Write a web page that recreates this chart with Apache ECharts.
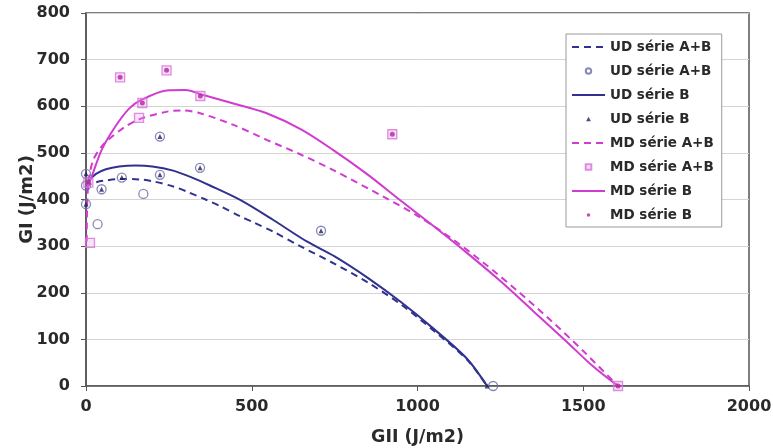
<!DOCTYPE html>
<html>
<head>
<meta charset="utf-8">
<script src="https://cdn.jsdelivr.net/npm/echarts@6/dist/echarts.min.js"></script>
<style>html,body{margin:0;padding:0;background:#fff}#c{width:773px;height:448px}</style>
</head>
<body>
<div id="c"></div>
<script>
// Tick values
const xTicks = [0, 500, 1000, 1500, 2000];
const yTicks = [0, 100, 200, 300, 400, 500, 600, 700, 800];

// Fitted curves (GII, GI)
const udABCurveX = [0, 10, 30, 52, 103, 163, 202, 263, 304, 364, 404, 465, 505, 565, 646, 750, 850, 950, 1050, 1150, 1210];
const udABCurveY = [425, 432, 437, 440, 444, 443, 439, 428, 417, 399, 386, 364, 351, 331, 300, 262, 222, 175, 118, 56, 0];
const udBCurveX = [0, 10, 30, 60, 100, 150, 200, 263, 320, 374, 465, 565, 666, 750, 850, 950, 1050, 1150, 1210];
const udBCurveY = [420, 440, 455, 465, 471, 473, 471, 462, 447, 430, 399, 356, 310, 278, 232, 180, 122, 58, 0];
const mdABCurveX = [2, 4, 10, 22, 45, 67, 118, 168, 248, 290, 344, 445, 545, 646, 746, 897, 1000, 1100, 1200, 1300, 1400, 1500, 1605];
const mdABCurveY = [310, 400, 450, 485, 512, 528, 556, 574, 589, 591, 585, 560, 528, 497, 463, 406, 365, 318, 264, 205, 142, 75, 0];
const mdBCurveX = [0, 17, 47, 88, 130, 168, 243, 300, 354, 445, 545, 650, 746, 847, 947, 1050, 1150, 1250, 1350, 1450, 1525, 1605];
const mdBCurveY = [420, 449, 506, 556, 595, 614, 634, 635, 624, 606, 585, 550, 506, 455, 399, 342, 285, 225, 160, 95, 45, 0];

// Measured points
const udABPtsX = [0, 0, 0, 35, 47, 108, 173, 223, 223, 344, 709, 1228];
const udABPtsY = [455, 430, 390, 347, 422, 447, 412, 453, 535, 468, 333, 0];
const udBPtsX = [0, 0, 47, 108, 223, 223, 344, 709, 1210];
const udBPtsY = [455, 390, 422, 447, 453, 535, 468, 333, 0];
const mdABPtsX = [12, 7, 103, 160, 170, 243, 345, 924, 1605];
const mdABPtsY = [307, 436, 662, 575, 607, 677, 622, 540, 0];
const mdBPtsX = [7, 103, 170, 243, 345, 924, 1605];
const mdBPtsY = [438, 662, 607, 677, 622, 540, 0];

const names = ['UD série A+B', 'UD série A+B\u200b', 'UD série B', 'UD série B\u200b',
               'MD série A+B', 'MD série A+B\u200b', 'MD série B', 'MD série B\u200b'];

const NAVY = '#31318f';
const MAG = '#d03ccf';
const zip = (xs, ys) => xs.map((x, i) => [x, ys[i]]);
const font = 'DejaVu Sans';
const noSym = {color: 'rgba(0,0,0,0)', borderWidth: 0, borderColor: 'rgba(0,0,0,0)'};
const smallTri = 'path://M0,0M10,10M5,2.2L8,7.8L2,7.8Z';
const smallDot = 'path://M0,0M10,10M5,2.8A2.2,2.2 0 1 1 5,7.2A2.2,2.2 0 1 1 5,2.8Z';
const smallCircle = 'path://M0,0M10,10M5,1.6A3.4,3.4 0 1 1 5,8.4A3.4,3.4 0 1 1 5,1.6Z';
const smallSquare = 'path://M0,0M10,10M1.5,1.5L8.5,1.5L8.5,8.5L1.5,8.5Z';

const chart = echarts.init(document.getElementById('c'), null, {renderer: 'canvas'});
chart.setOption({
  animation: false,
  backgroundColor: '#fff',
  grid: {left: 86, right: 24, top: 13, bottom: 62, show: true, borderColor: '#555', borderWidth: 1.5,
         outerBoundsMode: 'none', containLabel: false},
  xAxis: {
    type: 'value', min: xTicks[0], max: xTicks[xTicks.length - 1], interval: 500,
    name: 'GII (J/m2)', nameLocation: 'middle', nameGap: 42, nameMoveOverlap: false,
    nameTextStyle: {fontFamily: font, fontWeight: 'bold', fontSize: 17.5, color: '#2a2a2a'},
    axisLine: {show: true, lineStyle: {color: '#555', width: 1.5}},
    axisTick: {show: true, inside: false, length: 5, lineStyle: {color: '#555'}},
    axisLabel: {fontFamily: font, fontWeight: 'bold', fontSize: 16, color: '#2a2a2a', margin: 13,
                formatter: v => String(v)},
    splitLine: {show: false}
  },
  yAxis: {
    type: 'value', min: yTicks[0], max: yTicks[yTicks.length - 1], interval: 100,
    name: 'GI (J/m2)', nameLocation: 'middle', nameGap: 50, nameRotate: 90, nameMoveOverlap: false,
    nameTextStyle: {fontFamily: font, fontWeight: 'bold', fontSize: 18, color: '#2a2a2a'},
    axisLine: {show: true, lineStyle: {color: '#555', width: 1.5}},
    axisTick: {show: true, inside: false, length: 5, lineStyle: {color: '#555'}},
    axisLabel: {fontFamily: font, fontWeight: 'bold', fontSize: 16, color: '#2a2a2a', margin: 16,
                formatter: v => String(v)},
    splitLine: {show: true, lineStyle: {color: '#d4d4d4', width: 1}}
  },
  legend: {
    orient: 'vertical', left: 566, top: 34,
    data: [
      {name: names[0], itemStyle: noSym},
      {name: names[1], icon: smallCircle},
      {name: names[2], itemStyle: noSym},
      {name: names[3], icon: smallTri},
      {name: names[4], itemStyle: noSym},
      {name: names[5], icon: smallSquare},
      {name: names[6], itemStyle: noSym},
      {name: names[7], icon: smallDot}
    ],
    itemWidth: 33, itemHeight: 8, itemGap: 10,
    padding: [6, 8, 5, 5],
    backgroundColor: '#fff', borderColor: '#9a9a9a', borderWidth: 1,
    textStyle: {fontFamily: font, fontWeight: 'bold', fontSize: 13.5, color: '#2a2a2a'},
    formatter: n => n.replace('\u200b', '')
  },
  series: [
    {name: names[0], type: 'line', data: zip(udABCurveX, udABCurveY), symbol: 'none', smooth: 0.3,
     lineStyle: {color: NAVY, width: 2, type: [7, 5]}, itemStyle: {color: NAVY}, z: 3},
    {name: names[1], type: 'scatter', data: zip(udABPtsX, udABPtsY), symbol: 'circle', symbolSize: 9,
     symbolKeepAspect: true,
     itemStyle: {color: 'rgba(255,255,255,0)', borderColor: '#6a6aa6', borderWidth: 1.3}, z: 4},
    {name: names[2], type: 'line', data: zip(udBCurveX, udBCurveY), symbol: 'none', smooth: 0.3,
     lineStyle: {color: NAVY, width: 2}, itemStyle: {color: NAVY}, z: 3},
    {name: names[3], type: 'scatter', data: zip(udBPtsX, udBPtsY), symbol: 'triangle', symbolSize: 5,
     symbolKeepAspect: true,
     itemStyle: {color: '#1f1f5c'}, z: 5},
    {name: names[4], type: 'line', data: zip(mdABCurveX, mdABCurveY), symbol: 'none', smooth: 0.3,
     lineStyle: {color: MAG, width: 2, type: [7, 5]}, itemStyle: {color: MAG}, z: 3},
    {name: names[5], type: 'scatter', data: zip(mdABPtsX, mdABPtsY), symbol: 'rect', symbolSize: 9,
     symbolKeepAspect: true,
     itemStyle: {color: 'rgba(230,150,230,0.35)', borderColor: '#d872d8', borderWidth: 1.3}, z: 4},
    {name: names[6], type: 'line', data: zip(mdBCurveX, mdBCurveY), symbol: 'none', smooth: 0.3,
     lineStyle: {color: MAG, width: 2}, itemStyle: {color: MAG}, z: 3},
    {name: names[7], type: 'scatter', data: zip(mdBPtsX, mdBPtsY), symbol: 'circle', symbolSize: 5,
     symbolKeepAspect: true,
     itemStyle: {color: '#b8229f'}, z: 5}
  ]
});
</script>
</body>
</html>
